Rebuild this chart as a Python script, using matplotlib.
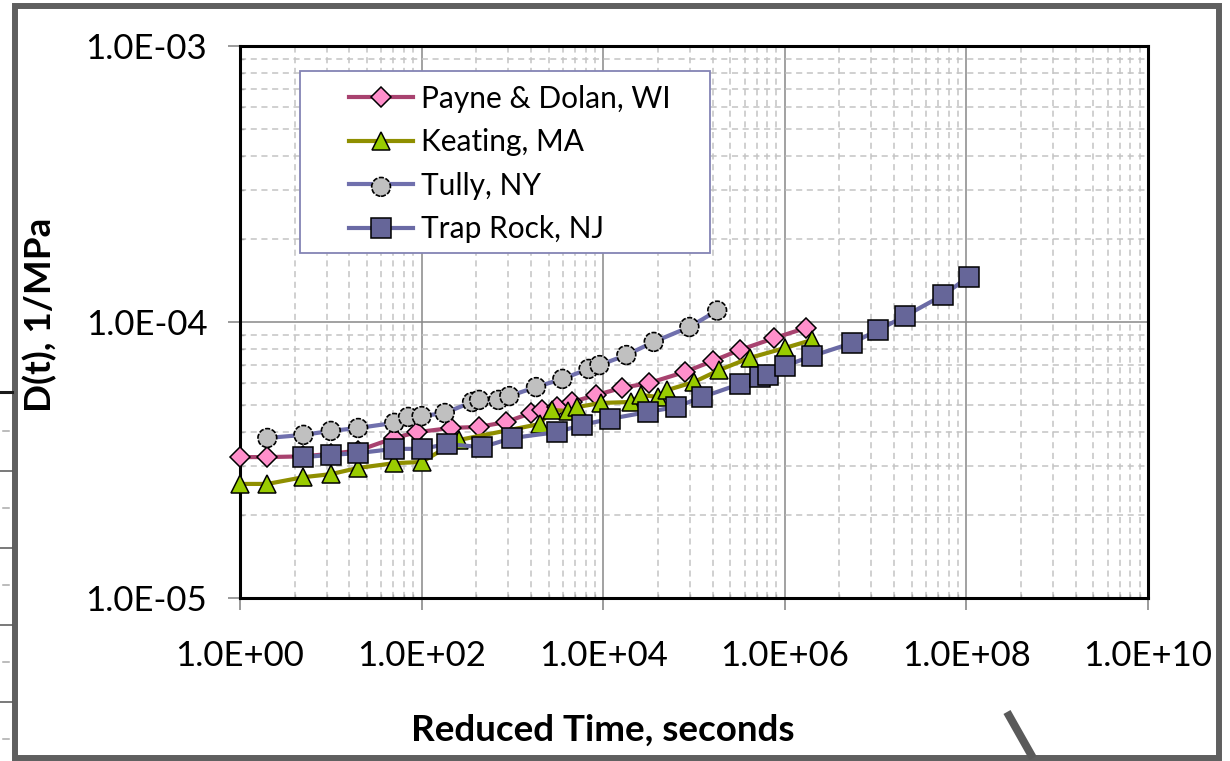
import matplotlib
matplotlib.use('Agg')
import matplotlib.pyplot as plt
from matplotlib.ticker import FixedLocator, FuncFormatter, NullFormatter
from matplotlib.patches import Rectangle
from matplotlib.lines import Line2D
from matplotlib.legend_handler import HandlerTuple

plt.rcParams['font.family'] = ['Lato', 'DejaVu Sans']

# creep compliance master curves, reduced time (s) vs D(t) (1/MPa)
payne_t = [1, 2, 5, 10, 20, 50, 90, 210, 430, 850, 1600, 2100, 3100, 4500, 8400,
           1.6e4, 3.2e4, 7.9e4, 1.6e5, 3.2e5, 7.7e5, 1.7e6]
payne_d = [3.24e-5, 3.24e-5, 3.26e-5, 3.33e-5, 3.42e-5, 3.80e-5, 3.99e-5, 4.13e-5, 4.17e-5, 4.34e-5, 4.68e-5,
           4.80e-5, 4.92e-5, 5.13e-5, 5.44e-5, 5.77e-5, 6.01e-5, 6.59e-5, 7.22e-5, 7.92e-5, 8.75e-5, 9.51e-5]

keating_t = [1, 2, 5, 10, 20, 50, 100, 260, 2000, 2700, 4100, 5200, 9500, 2.0e4, 2.6e4,
             4.0e4, 5.1e4, 1.0e5, 1.9e5, 4.1e5, 1.0e6, 2.0e6]
keating_d = [2.59e-5, 2.59e-5, 2.74e-5, 2.81e-5, 2.96e-5, 3.08e-5, 3.11e-5, 3.74e-5, 4.27e-5, 4.80e-5, 4.76e-5,
             4.92e-5, 5.09e-5, 5.13e-5, 5.44e-5, 5.35e-5, 5.67e-5, 6.06e-5, 6.70e-5, 7.41e-5, 8.05e-5, 8.61e-5]

tully_t = [2, 5, 10, 20, 50, 71, 100, 180, 360, 430, 700, 925, 1820, 3550, 6900, 9100,
           1.8e4, 3.6e4, 8.9e4, 1.8e5]
tully_d = [3.80e-5, 3.90e-5, 4.03e-5, 4.13e-5, 4.31e-5, 4.53e-5, 4.56e-5, 4.68e-5, 5.13e-5, 5.22e-5,
           5.22e-5, 5.39e-5, 5.81e-5, 6.22e-5, 6.76e-5, 6.98e-5, 7.59e-5, 8.47e-5, 9.59e-5, 1.10e-4]

trap_t = [5, 10, 20, 50, 100, 190, 465, 1000, 3100, 5900, 1.2e4, 3.1e4, 6.3e4, 1.24e5,
          3.2e5, 5.3e5, 6.5e5, 1.0e6, 2.0e6, 5.5e6, 1.07e7, 2.1e7, 5.5e7, 1.07e8]
trap_d = [3.24e-5, 3.30e-5, 3.35e-5, 3.47e-5, 3.47e-5, 3.61e-5, 3.52e-5, 3.80e-5, 3.99e-5, 4.24e-5,
          4.46e-5, 4.72e-5, 4.92e-5, 5.35e-5, 5.96e-5, 6.32e-5, 6.43e-5, 6.93e-5, 7.53e-5, 8.39e-5,
          9.35e-5, 1.05e-4, 1.25e-4, 1.46e-4]

labels = ['Payne & Dolan, WI', 'Keating, MA', 'Tully, NY', 'Trap Rock, NJ']

x_major = [1e0, 1e2, 1e4, 1e6, 1e8, 1e10]
y_major = [1e-5, 1e-4, 1e-3]

W, H = 1230, 761
fig = plt.figure(figsize=(W/100, H/100), dpi=100)
ax = fig.add_axes([240/W, 1-598/H, 908/W, 552/H])
ax.set_xscale('log')
ax.set_yscale('log')
ax.set_xlim(1, 1e10)
ax.set_ylim(1e-5, 1e-3)

ax.xaxis.set_major_locator(FixedLocator(x_major))
ax.xaxis.set_minor_locator(FixedLocator([k*k*m for m in x_major[:-1] for k in range(2, 10)]))
ax.yaxis.set_major_locator(FixedLocator(y_major))
ax.yaxis.set_minor_locator(FixedLocator([k*m for m in y_major[:-1] for k in range(2, 10)]))
fmt = FuncFormatter(lambda v, p: '%.1E' % v)
ax.xaxis.set_major_formatter(fmt)
ax.yaxis.set_major_formatter(fmt)
ax.xaxis.set_minor_formatter(NullFormatter())
ax.yaxis.set_minor_formatter(NullFormatter())

ax.set_axisbelow(True)
ax.grid(which='major', color='#878787', lw=1.1, ls='-')
ax.grid(which='minor', color='#c4c4c4', lw=1.1, ls=(0, (4, 3)))
ax.tick_params(which='major', direction='out', length=8.5, width=1.1, color='#808080', labelsize=25)
ax.tick_params(axis='y', which='major', pad=15)
ax.tick_params(axis='x', which='major', pad=22)
ax.tick_params(which='minor', direction='in', length=3, width=1, color='#a8a8a8')
for s in ax.spines.values():
    s.set_linewidth(2.2)
    s.set_color('black')

h1, = ax.plot(payne_t, payne_d, color='#a8426f', lw=3, marker='D', ms=10.5,
              mfc='#ff8fcb', mec='black', mew=1.1, clip_on=False, zorder=3)
h2, = ax.plot(keating_t, keating_d, color='#8f8f00', lw=3, marker='^', ms=13.5,
              mfc='#99cc00', mec='black', mew=1.1, clip_on=False, zorder=4)
h3, = ax.plot(tully_t, tully_d, color='#7070ad', lw=3, zorder=5)
h3s = ax.scatter(tully_t, tully_d, s=13.5**2, c='#c0c0c0', edgecolors='black', linewidths=1.2,
                 linestyles=(0, (3, 1)), zorder=5.1)
h4, = ax.plot(trap_t, trap_d, color='#6a6aa5', lw=3, marker='s', ms=14,
              mfc='#666699', mec='black', mew=1.1, clip_on=False, zorder=6)

ax.add_patch(Rectangle((0.066, 0.625), 0.452, 0.330, transform=ax.transAxes,
                       facecolor='white', edgecolor='#8484b4', lw=1.3, zorder=7))
leg = ax.legend([h1, h2, (h3, h3s), h4], labels, loc='upper left', bbox_to_anchor=(0.12, 0.93),
                frameon=False, borderpad=0, fontsize=21.5, handlelength=2.15, handletextpad=0.25,
                labelspacing=0.52, borderaxespad=0, handler_map={tuple: HandlerTuple(ndivide=1)})
leg.set_zorder(8)

fig.text(603/W, 1-730/H, 'Reduced Time, seconds', ha='center', va='center',
         fontsize=26.5, fontweight='bold')
fig.text(40/W, 1-315/H, 'D(t), 1/MPa', ha='center', va='center', rotation=90,
         fontsize=26.5, fontweight='bold')

# window border and the edges of the neighbouring sheet
fig.patches.append(Rectangle((15/W, 3/H), 1204/W, 752/H, fill=False, ec='#5f5f5f',
                             lw=4.3, transform=fig.transFigure))
fig.lines.append(Line2D([0, 12/W], [1-392/H]*2, color='#1a1a1a', lw=2.2, transform=fig.transFigure))
for y in [471, 548, 625, 702]:
    fig.lines.append(Line2D([0, 12/W], [1-y/H]*2, color='#555555', lw=1.1, transform=fig.transFigure))
for y in [431, 508, 585, 662, 739]:
    fig.lines.append(Line2D([3/W, 9/W], [1-y/H]*2, color='#aaaaaa', lw=1.1, transform=fig.transFigure))
fig.lines.append(Line2D([1007/W, 1033/W], [1-712/H, 1-758/H], color='#5a5a5a', lw=5.8,
                        solid_capstyle='butt', transform=fig.transFigure))

fig.savefig('out.png', dpi=100)
